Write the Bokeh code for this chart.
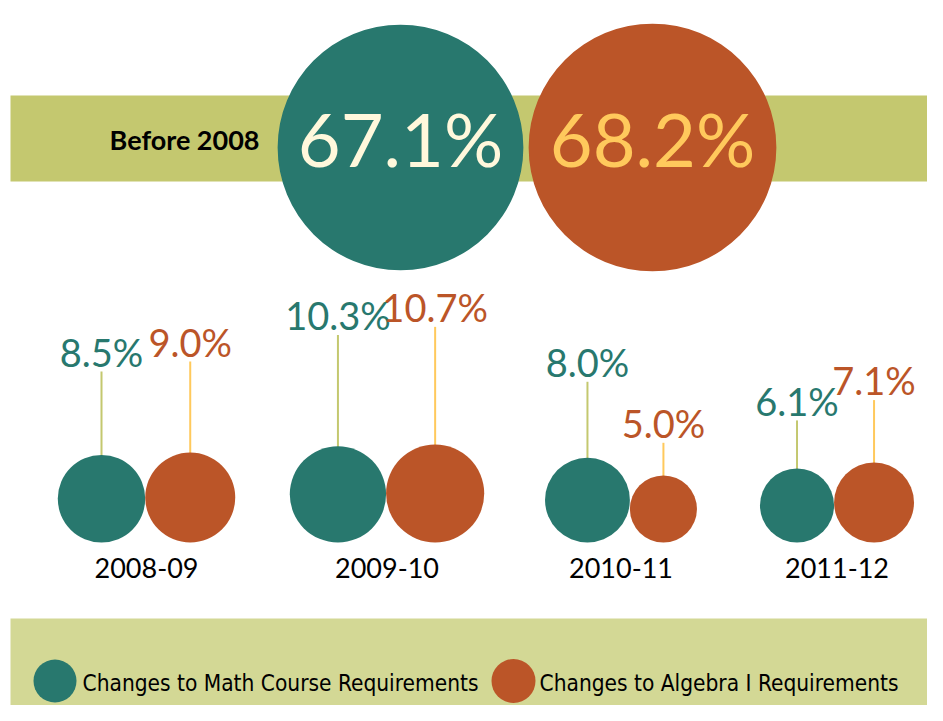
import math
from bokeh.plotting import figure
from bokeh.models import Range1d, ColumnDataSource
from bokeh.core.properties import value
from bokeh.embed import file_html
from bokeh.resources import INLINE

# ---------------- data ----------------
periods = ["2008-09", "2009-10", "2010-11", "2011-12"]
math_course = [8.5, 10.3, 8.0, 6.1]
algebra_1 = [9.0, 10.7, 5.0, 7.1]
before_label = "Before 2008"
before_math = 67.1
before_algebra = 68.2
series_names = ["Changes to Math Course Requirements", "Changes to Algebra I Requirements"]

# ---------------- styles / layout ----------------
TEAL = "#28786e"
ORANGE = "#bb5528"
CREAM = "#fff8dc"
GOLD = "#ffc95c"
OLIVE = "#c4c86f"
OLIVE_LIGHT = "#d3d895"
STEM_TEAL = "#c4c86f"
STEM_ORANGE = "#ffc95c"

NUM_FONT = value("Lato")
LEG_FONT = value("'DejaVu Sans Condensed', 'Open Sans'")

GROUP_X = [146, 386.5, 620.5, 836.5]
R_SCALE = 15.0        # radius px per sqrt(percent)
CIRCLE_BOTTOM = 542
STEM_BASE = 544
STEM_SCALE = 20.34    # px per percent
BIG_X = [400, 652]
BIG_Y = 147
BIG_TEXT_Y = 167
BASE_K = 0.39         # renderer baseline correction (fraction of font size)

BIG_FS, BEFORE_FS, VAL_FS, CAT_FS, LEG_FS = 74, 27, 38, 27, 22.5


def by(baseline, fs):
    return baseline - BASE_K * fs


p = figure(width=927, height=705, x_range=Range1d(0, 927), y_range=Range1d(705, 0),
           output_backend="svg", toolbar_location=None, min_border=0)
p.axis.visible = False
p.grid.visible = False
p.outline_line_color = None
p.background_fill_color = "white"
p.border_fill_color = "white"

# bands
p.quad(left=[10], right=[943], top=[95], bottom=[181], fill_color=OLIVE, line_color=None)
p.quad(left=[10], right=[943], top=[618], bottom=[725], fill_color=OLIVE_LIGHT, line_color=None)

# big circles (before 2008)
big_vals = [before_math, before_algebra]
big_src = ColumnDataSource(dict(
    x=BIG_X, y=[BIG_Y, BIG_Y], ty=[by(BIG_TEXT_Y, BIG_FS)] * 2,
    r=[R_SCALE * math.sqrt(v) for v in big_vals],
    color=[TEAL, ORANGE],
    txt=[f"{v:.1f}%" for v in big_vals],
    tcolor=[CREAM, GOLD],
))
p.circle(x="x", y="y", radius="r", fill_color="color", line_color=None, source=big_src)
p.text(x="x", y="ty", text="txt", text_color="tcolor", text_font=NUM_FONT,
       text_font_size=f"{BIG_FS}px", text_align="center", text_baseline="alphabetic", source=big_src)
p.text(x=[259], y=[by(150, BEFORE_FS)], text=[before_label], text_color="black", text_font=value("Lato"),
       text_font_style="bold", text_font_size=f"{BEFORE_FS}px", text_align="right",
       text_baseline="alphabetic")

# small circles per period
tx, ox, tr, orr, ty, oy = [], [], [], [], [], []
for gx, m, a in zip(GROUP_X, math_course, algebra_1):
    rt = R_SCALE * math.sqrt(m)
    ro = R_SCALE * math.sqrt(a)
    tx.append(gx - ro)
    ox.append(gx + rt)
    tr.append(rt)
    orr.append(ro)
    ty.append(CIRCLE_BOTTOM - rt)
    oy.append(CIRCLE_BOTTOM - ro)

t_top = [STEM_BASE - STEM_SCALE * v for v in math_course]
o_top = [STEM_BASE - STEM_SCALE * v for v in algebra_1]

p.segment(x0=tx, y0=t_top, x1=tx, y1=ty, line_color=STEM_TEAL, line_width=2)
p.segment(x0=ox, y0=o_top, x1=ox, y1=oy, line_color=STEM_ORANGE, line_width=2)
p.circle(x=tx, y=ty, radius=tr, fill_color=TEAL, line_color=None)
p.circle(x=ox, y=oy, radius=orr, fill_color=ORANGE, line_color=None)

p.text(x=tx, y=[by(v - 5, VAL_FS) for v in t_top], text=[f"{v:.1f}%" for v in math_course],
       text_color=TEAL, text_font=NUM_FONT, text_font_size=f"{VAL_FS}px",
       text_align="center", text_baseline="alphabetic")
p.text(x=ox, y=[by(v - 5, VAL_FS) for v in o_top], text=[f"{v:.1f}%" for v in algebra_1],
       text_color=ORANGE, text_font=NUM_FONT, text_font_size=f"{VAL_FS}px",
       text_align="center", text_baseline="alphabetic")

p.text(x=GROUP_X, y=[by(578, CAT_FS)] * 4, text=periods, text_color="black", text_font=value("Lato"),
       text_font_size=f"{CAT_FS}px", text_align="center", text_baseline="alphabetic")

# legend
p.circle(x=[54.5, 513], y=[680.5, 680.5], radius=[21.5, 22], fill_color=[TEAL, ORANGE], line_color=None)
p.text(x=[82, 539], y=[by(691, LEG_FS)] * 2, text=series_names, text_color="black", text_font=LEG_FONT,
       text_font_size=f"{LEG_FS}px", text_align="left", text_baseline="alphabetic")

open("out.html", "w").write(file_html(p, INLINE))
